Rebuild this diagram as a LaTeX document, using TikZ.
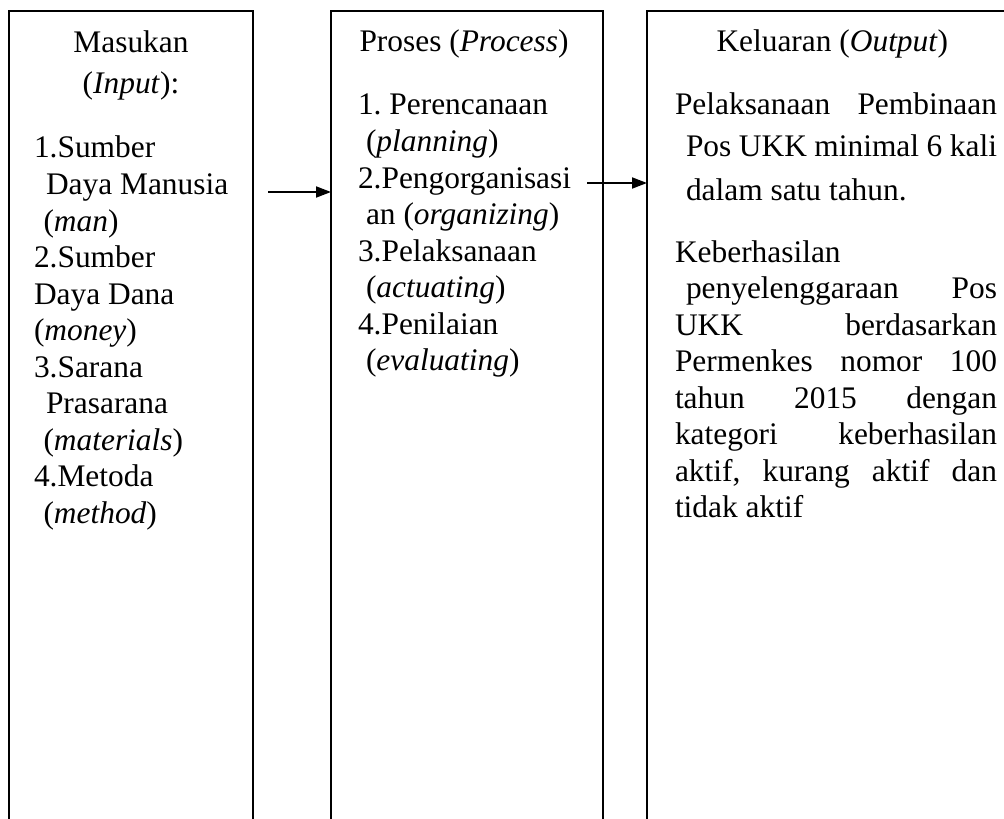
\documentclass[tikz,border=0pt]{standalone}
\usepackage{fontspec}
\setmainfont{Liberation Serif}
\usetikzlibrary{arrows.meta}
\frenchspacing

\newcommand{\spreadline}[2]{\makebox[#1][s]{#2}}

\tikzset{
  panel/.style={draw, line width=0.9pt, outer sep=0pt, inner sep=0pt, anchor=north west},
  txtline/.style={anchor=base west, inner sep=0pt, outer sep=0pt},
  flow/.style={line width=0.9pt, -{Triangle[length=7.5pt,width=5.5pt]}},
}

\begin{document}
\begin{tikzpicture}[x=0.5pt,y=-0.5pt,font=\fontsize{15.7pt}{18.25pt}\selectfont]
        \clip (0,0) rectangle (1004,818);
        % the three columns, open below the page
        \node[panel, minimum width=122pt, minimum height=460pt] (masukan) at (9,11) {};
        \node[panel, minimum width=136pt, minimum height=460pt] (proses) at (331,11) {};
        \node[panel, minimum width=185pt, minimum height=460pt] (keluaran) at (647,11) {};

        % input
        \node[txtline, anchor=base] (in-head) at (131,53) {Masukan};
        \node[txtline, anchor=base] (in-sub) at (131,94) {(\textit{Input}):};
        \foreach \x/\t [count=\i] in {34/{1.Sumber}, 46/{Daya Manusia}, 43.5/{(\textit{man})},
            34/{2.Sumber}, 34/{Daya Dana}, 34/{(\textit{money})}, 34/{3.Sarana},
            46/{Prasarana}, 43.5/{(\textit{materials})}, 34/{4.Metoda}, 43.5/{(\textit{method})}}
          \node[txtline] (in-\i) at (\x,{158+36.5*(\i-1)}) {\t};

        % process
        \node[txtline] (pr-head) at (359.5,52) {Proses (\textit{Process})};
        \foreach \x/\t [count=\i] in {358/{1. Perencanaan}, 366/{(\textit{planning})},
            358/{2.Pengorganisasi}, 366/{an (\textit{organizing})}, 358/{3.Pelaksanaan},
            366/{(\textit{actuating})}, 358/{4.Penilaian}, 366/{(\textit{evaluating})}}
          \node[txtline] (pr-\i) at (\x,{115+36.5*(\i-1)}) {\t};

        % output
        \node[txtline] (out-head) at (716.5,52) {Keluaran (\textit{Output})};
        \foreach \x/\y/\t [count=\i] in {675/115/{\spreadline{161pt}{Pelaksanaan Pembinaan}},
            686/157/{\spreadline{155.5pt}{Pos UKK minimal 6 kali}},
            686/200/{dalam satu tahun.},
            675/262/{Keberhasilan},
            686/298.5/{\spreadline{155.5pt}{penyelenggaraan Pos}},
            675/335/{\spreadline{161pt}{UKK berdasarkan}},
            675/371.5/{\spreadline{161pt}{Permenkes nomor 100}},
            675/408/{\spreadline{161pt}{tahun 2015 dengan}},
            675/444.5/{\spreadline{161pt}{kategori keberhasilan}},
            675/481/{\spreadline{161pt}{aktif, kurang aktif dan}},
            675/517.5/{tidak aktif}}
          \node[txtline] (out-\i) at (\x,\y) {\t};

        % arrows
        \coordinate (startA) at (268,192);
        \coordinate (startB) at (587,183);
        \draw[flow] (startA) -- (startA -| proses.west);
        \draw[flow] (startB) -- (startB -| keluaran.west);
\end{tikzpicture}
\end{document}
